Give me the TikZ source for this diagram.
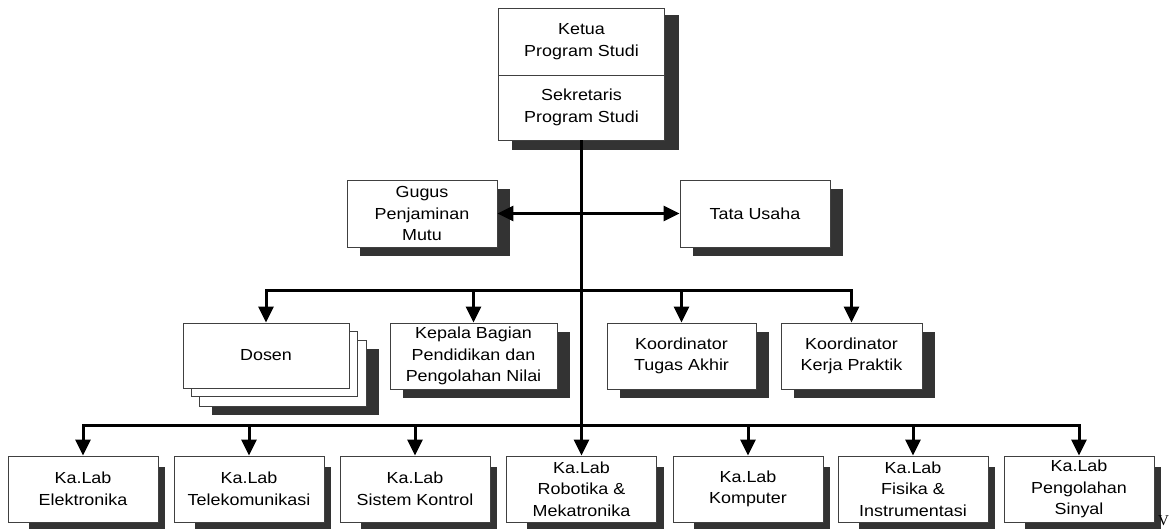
\documentclass[tikz,border=0pt]{standalone}
\usepackage{fontspec}
\setmainfont{Liberation Sans}[FakeStretch=1.12]
\newfontfamily\serifV{Liberation Serif}
\usetikzlibrary{arrows.meta,calc}
\pgfdeclarelayer{bg}
\pgfsetlayers{bg,main}
\definecolor{shadowc}{HTML}{333333}
\definecolor{edgec}{HTML}{404040}
\newcommand\boxshadow[1]{\fill[shadowc] ($(#1.north west)+(13,9)$) rectangle ($(#1.south east)+(13,9)$);}
\newcommand\labshadow[1]{\fill[shadowc] ($(#1.north west)+(21,11)$) rectangle ($(#1.south east)+(7,8)$);}
\begin{document}
\begin{tikzpicture}[x=1pt,y=-1pt,
  box/.style={draw=edgec, line width=0.9pt, fill=white, inner sep=0pt, align=center,
    font=\fontsize{16}{21.5}\selectfont},
  conn/.style={line width=3pt},
  arr/.style={conn, -{Triangle[length=16pt,width=15pt]}},
  darr/.style={conn, {Triangle[length=16pt,width=15pt]}-{Triangle[length=16pt,width=15pt]}},
]
\useasboundingbox (0,0) rectangle (1173,528);

% top
\node[box, minimum width=166pt, minimum height=67pt] (ketua) at (581.5,41.5) {Ketua\\Program Studi};
\node[box, minimum width=166pt, minimum height=65pt] (sekr) at (581.5,107.5) {Sekretaris\\Program Studi};

% second level
\node[box, minimum width=150pt, minimum height=67pt] (gugus) at (422,213.5) {Gugus\\Penjaminan\\Mutu};
\node[box, minimum width=150pt, minimum height=67pt] (tata) at (755,213.5) {Tata Usaha};

% third level
\node[box, minimum width=167pt, minimum height=66pt] (dosenC) at (282.5,373) {};
\node[box, minimum width=166pt, minimum height=65pt] (dosenB) at (274,364) {};
\node[box, minimum width=166pt, minimum height=65pt] (dosen) at (266,355.5) {Dosen};
\node[box, minimum width=167pt, minimum height=66pt] (kepala) at (473.5,356) {Kepala Bagian\\Pendidikan dan\\Pengolahan Nilai};
\node[box, minimum width=149pt, minimum height=66pt] (kta) at (681.5,356) {Koordinator\\Tugas Akhir};
\node[box, minimum width=141pt, minimum height=66pt] (kkp) at (851.5,356) {Koordinator\\Kerja Praktik};

% bottom row
\node[box, minimum width=150pt, minimum height=66pt] (lab1) at (83,489) {Ka.Lab\\Elektronika};
\node[box, minimum width=150pt, minimum height=66pt] (lab2) at (249,489) {Ka.Lab\\Telekomunikasi};
\node[box, minimum width=150pt, minimum height=66pt] (lab3) at (415,489) {Ka.Lab\\Sistem Kontrol};
\node[box, minimum width=150pt, minimum height=66pt] (lab4) at (581.5,489) {Ka.Lab\\Robotika \&\\Mekatronika};
\node[box, minimum width=150pt, minimum height=66pt] (lab5) at (748,489) {Ka.Lab\\Komputer};
\node[box, minimum width=150pt, minimum height=66pt] (lab6) at (913,489) {Ka.Lab\\Fisika \&\\Instrumentasi};
\node[box, minimum width=150pt, minimum height=66pt] (lab7) at (1079,489) {Ka.Lab\\Pengolahan\\Sinyal};

\node[font=\serifV\fontsize{15}{17}\selectfont, anchor=base west, inner sep=0pt] (vmark) at (1158,525) {V};

% shadows
\begin{pgfonlayer}{bg}
  \fill[shadowc] ($(ketua.north west)+(14,7)$) rectangle ($(sekr.south east)+(14,10)$);
  \boxshadow{gugus}
  \boxshadow{tata}
  \boxshadow{dosenC}
  \boxshadow{kepala}
  \boxshadow{kta}
  \boxshadow{kkp}
  \foreach \n in {lab1,lab2,lab3,lab4,lab5,lab6,lab7}{\labshadow{\n}}
\end{pgfonlayer}

% connectors
\coordinate (midbus) at (581.5,290);
\coordinate (lowbus) at (581.5,425);
\draw[arr] (sekr.south) -- (lab4.north);
\draw[darr] (gugus.east) -- (tata.west);
\foreach \n in {dosen,kepala,kta,kkp}{\draw[arr] (midbus) -| (\n.north);}
\foreach \n in {lab1,lab2,lab3,lab5,lab6,lab7}{\draw[arr] (lowbus) -| (\n.north);}
\end{tikzpicture}
\end{document}
